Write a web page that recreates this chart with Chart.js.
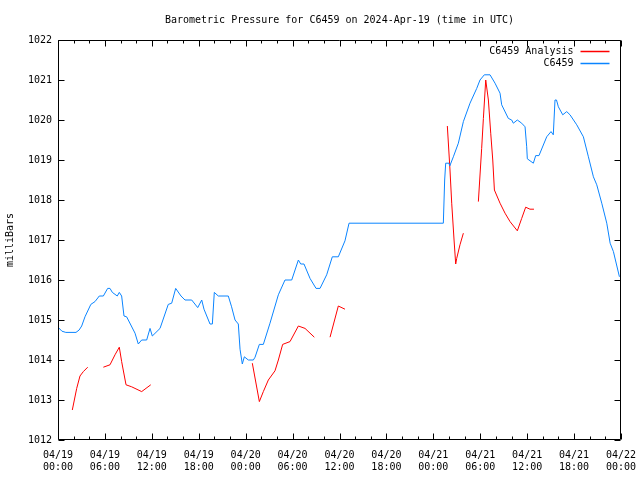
<!DOCTYPE html>
<html>
<head>
<meta charset="utf-8">
<script src="https://cdn.jsdelivr.net/npm/chart.js@4.4.1/dist/chart.umd.min.js"></script>
<style>
html, body { margin: 0; padding: 0; background: #fff; }
</style>
</head>
<body>
<canvas id="pressureChart" width="640" height="480"></canvas>
<script>
// hours since 2024-04-19 00:00 UTC
var tickDays = ['04/19', '04/19', '04/19', '04/19', '04/20', '04/20', '04/20', '04/20', '04/21', '04/21', '04/21', '04/21', '04/22'];
var tickTimes = ['00:00', '06:00', '12:00', '18:00', '00:00', '06:00', '12:00', '18:00', '00:00', '06:00', '12:00', '18:00', '00:00'];

var stationHours = [0.0, 0.5, 1.0, 2.3, 2.7, 3.03, 3.45, 4.2, 4.73, 5.28, 5.8, 6.35, 6.65, 6.95, 7.58, 7.84, 8.14, 8.44, 8.78,
    9.85, 10.27, 10.7, 11.34, 11.77, 12.06, 13.05, 14.1, 14.54, 15.05, 15.73, 16.24, 17.1, 17.87, 18.38, 18.67, 19.44,
    19.74, 19.99, 20.5, 21.78, 22.2, 22.64, 23.06, 23.28, 23.57, 23.83, 24.34, 24.98, 25.2, 25.75, 26.26, 27.11, 28.18,
    29.03, 29.89, 30.74, 31.04, 31.46, 32.23, 33.0, 33.51, 34.36, 35.08, 35.85, 36.7, 37.22, 49.28, 49.45, 49.58, 50.0,
    50.1, 50.56, 51.2, 51.84, 52.69, 53.55, 53.97, 54.52, 55.25, 55.89, 56.53, 56.74, 57.59, 58.02, 58.23, 58.74, 59.3,
    59.73, 59.94, 60.02, 60.79, 61.09, 61.51, 62.5, 63.05, 63.34, 63.56, 63.75, 63.99, 64.55, 65.06, 65.48, 66.34, 67.19,
    67.83, 68.47, 68.9, 69.54, 70.18, 70.61, 71.03, 71.8];
var stationPressure = [1014.82, 1014.72, 1014.69, 1014.69, 1014.75, 1014.85, 1015.08, 1015.39, 1015.46, 1015.6, 1015.6,
    1015.79, 1015.79, 1015.69, 1015.6, 1015.69, 1015.6, 1015.1, 1015.08, 1014.67, 1014.4, 1014.5, 1014.5, 1014.79, 1014.6,
    1014.79, 1015.39, 1015.42, 1015.79, 1015.6, 1015.5, 1015.5, 1015.31, 1015.5, 1015.27, 1014.9, 1014.9, 1015.69, 1015.6,
    1015.6, 1015.33, 1015.0, 1014.9, 1014.27, 1013.9, 1014.08, 1014.0, 1014.0, 1014.07, 1014.39, 1014.39, 1014.92, 1015.63,
    1016.0, 1016.0, 1016.5, 1016.4, 1016.4, 1016.04, 1015.79, 1015.79, 1016.13, 1016.58, 1016.58, 1016.98, 1017.42, 1017.42,
    1018.5, 1018.92, 1018.92, 1018.85, 1019.08, 1019.42, 1019.96, 1020.42, 1020.79, 1021.0, 1021.13, 1021.13, 1020.92,
    1020.67, 1020.38, 1020.04, 1020.0, 1019.92, 1020.0, 1019.92, 1019.83, 1019.33, 1019.03, 1018.92, 1019.11, 1019.11,
    1019.58, 1019.71, 1019.63, 1020.5, 1020.5, 1020.33, 1020.13, 1020.21, 1020.13, 1019.88, 1019.58, 1019.08, 1018.58,
    1018.38, 1017.92, 1017.42, 1016.92, 1016.71, 1016.08];

// null pressure = gap in the analysis record
var analysisHours = [1.83, 2.39, 2.81, 3.24, 3.8, 4.8, 5.8, 6.65, 7.29, 7.84, 8.14, 8.7, 9.42, 10.7, 11.86, 18.0,
    24.85, 25.75, 26.26, 26.9, 27.75, 28.18, 28.73, 29.67, 30.74, 31.59, 32.78, 33.8, 34.79, 35.85, 36.7, 43.0,
    49.79, 50.13, 50.35, 50.65, 50.86, 50.99, 51.41, 51.84, 52.8, 53.76, 54.18, 54.4, 54.7, 55.04, 55.34, 55.6, 55.81,
    56.53, 57.17, 57.81, 58.74, 59.3, 59.81, 60.36, 60.87];
var analysisPressure = [1012.75, 1013.29, 1013.6, 1013.71, 1013.82, null, 1013.82, 1013.88, 1014.13, 1014.32, 1013.96,
    1013.38, 1013.33, 1013.21, 1013.38, null, 1013.92, 1012.96, 1013.21, 1013.5, 1013.73, 1014.0, 1014.39, 1014.46,
    1014.85, 1014.79, 1014.57, null, 1014.57, 1015.35, 1015.27, null, 1019.85, 1018.75, 1017.92, 1017.0, 1016.4,
    1016.54, 1016.88, 1017.17, null, 1017.96, 1019.29, 1020.04, 1021.0, 1020.5, 1019.67, 1019.0, 1018.25, 1017.92,
    1017.67, 1017.46, 1017.23, 1017.54, 1017.82, 1017.77, 1017.77];

var monoFont = '"DejaVu Sans Mono", "Liberation Mono", monospace';

function toPoints(xs, ys) {
    return xs.map(function(x, i) { return { x: x, y: ys[i] }; });
}

// gnuplot look: box round the plot, inward ticks, legend top right
var gnuplotFrame = {
    id: 'gnuplotFrame',
    afterDatasetsDraw: function(chart) {
        var ctx = chart.ctx, a = chart.chartArea;
        var xs = chart.scales.x, ys = chart.scales.y;
        var left = Math.round(a.left) + 0.5, right = Math.round(a.right) - 0.5;
        var top = Math.round(a.top) + 0.5, bottom = Math.round(a.bottom) - 0.5;
        ctx.save();
        ctx.strokeStyle = '#000';
        ctx.lineWidth = 1;
        ctx.beginPath();
        for (var h = 0; h <= 72; h += 2) {
            var px = Math.round(xs.getPixelForValue(h)) + 0.5;
            var len = (h % 6 === 0) ? 6 : 3;
            ctx.moveTo(px, bottom); ctx.lineTo(px, bottom - len);
            ctx.moveTo(px, top); ctx.lineTo(px, top + len);
        }
        for (var p = 1012; p <= 1022; p++) {
            var py = Math.round(ys.getPixelForValue(p)) + 0.5;
            ctx.moveTo(left, py); ctx.lineTo(left + 6, py);
            ctx.moveTo(right, py); ctx.lineTo(right - 6, py);
        }
        ctx.rect(left, top, right - left, bottom - top);
        ctx.stroke();

        ctx.font = '10px ' + monoFont;
        ctx.textAlign = 'right';
        ctx.textBaseline = 'middle';
        chart.data.datasets.forEach(function(ds, i) {
            var y = Math.round(top + 10 + i * 12) + 0.5;
            var meta = chart.getDatasetMeta(i);
            ctx.fillStyle = '#000';
            ctx.fillText(ds.label, right - 47, y);
            ctx.strokeStyle = meta.dataset.options.borderColor;
            ctx.lineWidth = 1.5;
            ctx.beginPath();
            ctx.moveTo(right - 40, y);
            ctx.lineTo(right - 11, y);
            ctx.stroke();
        });
        ctx.restore();
    }
};

var ctx = document.getElementById('pressureChart').getContext('2d');
var pressureChart = new Chart(ctx, {
    type: 'line',
    data: {
        datasets: [
            {
                label: 'C6459 Analysis',
                data: toPoints(analysisHours, analysisPressure),
                borderColor: '#ff0000',
                borderWidth: 1,
                pointRadius: 0,
                tension: 0,
                spanGaps: false,
                order: 1
            },
            {
                label: 'C6459',
                data: toPoints(stationHours, stationPressure),
                borderColor: '#0a84ff',
                borderWidth: 1,
                pointRadius: 0,
                tension: 0,
                order: 0
            }
        ]
    },
    options: {
        responsive: false,
        animation: false,
        layout: { padding: { left: 0, right: 19, top: 0, bottom: 0 } },
        plugins: {
            legend: { display: false },
            tooltip: { enabled: false },
            title: {
                display: true,
                fullSize: false,
                text: 'Barometric Pressure for C6459 on 2024-Apr-19 (time in UTC)',
                color: '#000',
                font: { family: monoFont, size: 10, weight: 'normal' },
                padding: { top: 14, bottom: 14 }
            }
        },
        scales: {
            x: {
                type: 'linear',
                min: 0,
                max: 72,
                grid: { display: false, drawTicks: false },
                border: { display: false },
                afterFit: function(scale) {
                    scale.height = 40;
                    scale.paddingLeft = 0;
                    scale.paddingRight = 0;
                },
                ticks: {
                    stepSize: 6,
                    autoSkip: false,
                    maxRotation: 0,
                    padding: 9,
                    color: '#000',
                    font: { family: monoFont, size: 10 },
                    callback: function(value) {
                        var i = value / 6;
                        return [tickDays[i], tickTimes[i]];
                    }
                }
            },
            y: {
                min: 1012,
                max: 1022,
                grid: { display: false, drawTicks: false },
                border: { display: false },
                afterFit: function(scale) {
                    scale.width = 58;
                    scale.paddingTop = 0;
                    scale.paddingBottom = 0;
                },
                title: {
                    display: true,
                    text: 'milliBars',
                    color: '#000',
                    font: { family: monoFont, size: 10 },
                    padding: { top: 4, bottom: 0 }
                },
                ticks: {
                    stepSize: 1,
                    padding: 6,
                    color: '#000',
                    font: { family: monoFont, size: 10 },
                    callback: function(value) { return String(value); }
                }
            }
        }
    },
    plugins: [gnuplotFrame]
});
</script>
</body>
</html>
